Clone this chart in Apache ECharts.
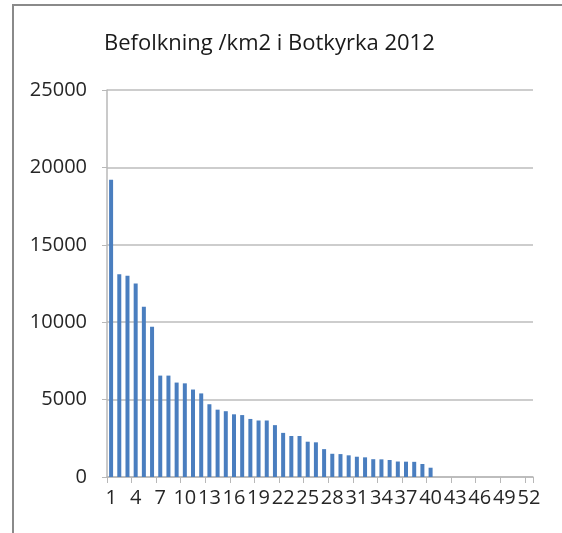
<!DOCTYPE html>
<html>
<head>
<meta charset="utf-8">
<script src="https://cdn.jsdelivr.net/npm/echarts@6/dist/echarts.min.js"></script>
<style>
  html, body { margin: 0; padding: 0; background: #fff; }
  #frame {
    position: absolute; left: 12px; top: 4px; width: 548px; height: 540px;
    border-left: 2px solid #8a8a8a; border-top: 2px solid #8a8a8a; border-right: 1px solid #d8d8d8;
  }
  #barChart { position: absolute; left: 0; top: 0; width: 562px; height: 533px; }
</style>
</head>
<body>
<div id="frame"></div>
<div id="barChart"></div>
<script>
const titleText = 'Befolkning /km2 i Botkyrka 2012'

// omraden 1..52, bara 1..40 har varden
const categories = []
for (let i = 1; i <= 52; i++) categories.push(String(i))

const density = [
  19200, 13100, 13000, 12500, 11000, 9700, 6550, 6550, 6100, 6050,
  5650, 5400, 4700, 4350, 4250, 4050, 4000, 3750, 3650, 3650,
  3350, 2850, 2650, 2650, 2280, 2240, 1800, 1500, 1480, 1400,
  1310, 1270, 1150, 1140, 1100, 1000, 990, 980, 840, 600
]

const yMin = 0
const yMax = 25000
const yStep = 5000

const barChart = echarts.init(document.querySelector('#barChart'))

barChart.setOption({
  animation: false,
  title: {
    text: titleText,
    left: 99,
    top: 28,
    textStyle: {
      color: '#1a1a1a',
      fontSize: 22,
      fontWeight: 'normal',
      fontFamily: 'Open Sans'
    }
  },
  grid: {
    left: 107,
    right: 29,
    top: 90,
    bottom: 56
  },
  xAxis: {
    type: 'category',
    data: categories,
    axisLine: { lineStyle: { color: '#b8b8b8', width: 1.5 } },
    axisTick: { show: true, length: 6, lineStyle: { color: '#b8b8b8' } },
    axisLabel: {
      interval: 2,
      color: '#262626',
      fontSize: 20,
      fontFamily: 'Open Sans',
      margin: 11
    }
  },
  yAxis: {
    type: 'value',
    min: yMin,
    max: yMax,
    interval: yStep,
    axisLine: { show: true, lineStyle: { color: '#b8b8b8', width: 1.5 } },
    axisTick: { show: true, length: 5, lineStyle: { color: '#b8b8b8' } },
    splitLine: { lineStyle: { color: '#bdbdbd', width: 1.5 } },
    axisLabel: {
      color: '#262626',
      fontSize: 20,
      fontFamily: 'Open Sans',
      margin: 20,
      formatter: (v) => String(v)
    }
  },
  series: [
    {
      type: 'bar',
      data: density,
      barWidth: 4,
      itemStyle: { color: '#4a7ebf' }
    }
  ]
})
</script>
</body>
</html>
